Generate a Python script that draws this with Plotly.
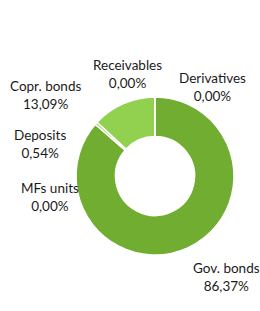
import plotly.graph_objects as go

categories = ["Derivatives", "Gov. bonds", "MFs units", "Deposits", "Copr. bonds", "Receivables"]
values = [0.00, 86.37, 0.00, 0.54, 13.09, 0.00]
colors = ["#4E8A22", "#70AD31", "#5B9B2A", "#9BD35A", "#92D050", "#A9D97A"]

# label anchor positions (pixels from top-left), layout only
label_pos = {
    "Receivables": (127, 74),
    "Derivatives": (212, 87),
    "Copr. bonds": (45, 95),
    "Deposits": (40, 144),
    "MFs units": (50, 197),
    "Gov. bonds": (226, 277),
}

W, H = 260, 311
cx, cy, r = 155, 176, 79

fig = go.Figure(go.Pie(
    labels=categories,
    values=values,
    sort=False,
    direction="clockwise",
    rotation=0,
    hole=0.5,
    marker=dict(colors=colors, line=dict(color="white", width=1.5)),
    textinfo="none",
    hoverinfo="label+percent",
    domain=dict(x=[(cx - r) / W, (cx + r) / W], y=[1 - (cy + r) / H, 1 - (cy - r) / H]),
    showlegend=False,
))

for cat, val in zip(categories, values):
    x, y = label_pos[cat]
    fig.add_annotation(
        x=x / W, y=1 - y / H, xref="paper", yref="paper",
        text=f"{cat}<br>{('%.2f' % val).replace('.', ',')}%",
        showarrow=False, xanchor="center", yanchor="middle",
        font=dict(family="Lato, Open Sans, sans-serif", size=13.5, color="#1a1a1a"),
        align="center",
    )

fig.update_layout(
    width=W, height=H,
    margin=dict(l=0, r=0, t=0, b=0),
    paper_bgcolor="white",
    plot_bgcolor="white",
)

fig.write_html(
    "out.html",
    config={"displayModeBar": False},
    post_script="document.body.style.margin='0';document.body.style.overflow='hidden';",
)
